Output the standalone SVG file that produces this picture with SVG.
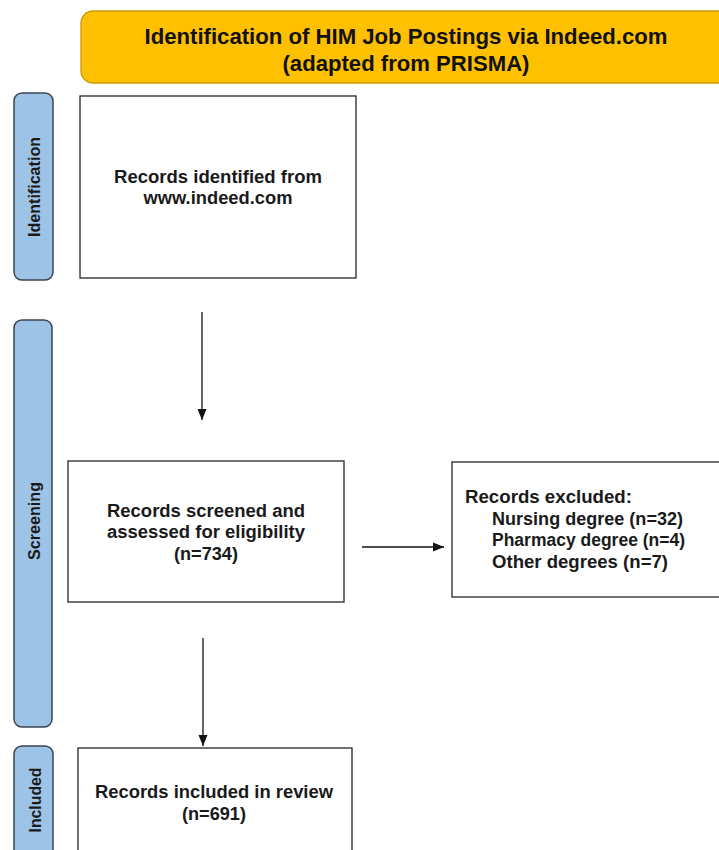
<svg xmlns="http://www.w3.org/2000/svg" width="719" height="850" viewBox="0 0 719 850">
<style>
  .box { fill: #ffffff; stroke: #262626; stroke-width: 1.3; }
  .tab { fill: #9dc3e6; stroke: #3a4450; stroke-width: 1.5; }
  .hdr { fill: #ffc000; stroke: #c99a0a; stroke-width: 1.3; }
  .t { font-family: "Liberation Sans", Arial, sans-serif; font-weight: bold; font-size: 18px; fill: #1a1a1a; }
  .th { font-family: "Liberation Sans", Arial, sans-serif; font-weight: bold; font-size: 22px; fill: #111111; }
  .tt { font-family: "Liberation Sans", Arial, sans-serif; font-weight: bold; font-size: 16px; fill: #1a1a1a; }
  .c { stroke: #111111; stroke-width: 1.3; fill: none; }
</style>
<defs>
  <marker id="ah" markerUnits="userSpaceOnUse" markerWidth="12" markerHeight="12" viewBox="0 0 12 12" refX="11" refY="6" orient="auto">
    <path d="M0,1.5 L11,6 L0,10.5 Z" fill="#111111"/>
  </marker>
</defs>
<rect width="719" height="850" fill="#ffffff"/>

<g id="header">
  <rect class="hdr" x="81" y="11" width="660" height="72" rx="12"/>
  <text class="th" x="406" y="44" text-anchor="middle" textLength="523" lengthAdjust="spacingAndGlyphs">Identification of HIM Job Postings via Indeed.com</text>
  <text class="th" x="406" y="71" text-anchor="middle" textLength="247" lengthAdjust="spacingAndGlyphs">(adapted from PRISMA)</text>
</g>

<g id="tab-identification">
  <rect class="tab" x="14" y="93" width="39" height="187" rx="8"/>
  <text class="tt" transform="translate(40,187) rotate(-90)" text-anchor="middle" textLength="100" lengthAdjust="spacingAndGlyphs">Identification</text>
</g>

<g id="tab-screening">
  <rect class="tab" x="14" y="320" width="38" height="407" rx="8"/>
  <text class="tt" transform="translate(40,521) rotate(-90)" text-anchor="middle" textLength="78" lengthAdjust="spacingAndGlyphs">Screening</text>
</g>

<g id="tab-included">
  <rect class="tab" x="14" y="746" width="39" height="120" rx="8"/>
  <text class="tt" transform="translate(41,800) rotate(-90)" text-anchor="middle" textLength="65" lengthAdjust="spacingAndGlyphs">Included</text>
</g>

<g id="node-identified">
  <rect class="box" x="80" y="96" width="276" height="182"/>
  <text class="t" x="218" y="183" text-anchor="middle" textLength="208" lengthAdjust="spacingAndGlyphs">Records identified from</text>
  <text class="t" x="218" y="204" text-anchor="middle" textLength="149" lengthAdjust="spacingAndGlyphs">www.indeed.com</text>
</g>

<g id="node-screened">
  <rect class="box" x="68" y="461" width="276" height="141"/>
  <text class="t" x="206" y="517" text-anchor="middle" textLength="198" lengthAdjust="spacingAndGlyphs">Records screened and</text>
  <text class="t" x="206" y="538" text-anchor="middle" textLength="198" lengthAdjust="spacingAndGlyphs">assessed for eligibility</text>
  <text class="t" x="206" y="560" text-anchor="middle" textLength="64" lengthAdjust="spacingAndGlyphs">(n=734)</text>
</g>

<g id="node-excluded">
  <rect class="box" x="452" y="462" width="280" height="135"/>
  <text class="t" x="465" y="503" textLength="167" lengthAdjust="spacingAndGlyphs">Records excluded:</text>
  <text class="t" x="492" y="525" textLength="191" lengthAdjust="spacingAndGlyphs">Nursing degree (n=32)</text>
  <text class="t" x="492" y="546" textLength="193" lengthAdjust="spacingAndGlyphs">Pharmacy degree (n=4)</text>
  <text class="t" x="492" y="568" textLength="176" lengthAdjust="spacingAndGlyphs">Other degrees (n=7)</text>
</g>

<g id="node-included">
  <rect class="box" x="78" y="748" width="274" height="120"/>
  <text class="t" x="214" y="798" text-anchor="middle" textLength="238" lengthAdjust="spacingAndGlyphs">Records included in review</text>
  <text class="t" x="214" y="820" text-anchor="middle" textLength="64" lengthAdjust="spacingAndGlyphs">(n=691)</text>
</g>

<g id="connectors">
  <line class="c" x1="202" y1="312" x2="202" y2="420" marker-end="url(#ah)"/>
  <line class="c" x1="362" y1="547" x2="444" y2="547" marker-end="url(#ah)"/>
  <line class="c" x1="203" y1="638" x2="203" y2="746" marker-end="url(#ah)"/>
</g>
</svg>
